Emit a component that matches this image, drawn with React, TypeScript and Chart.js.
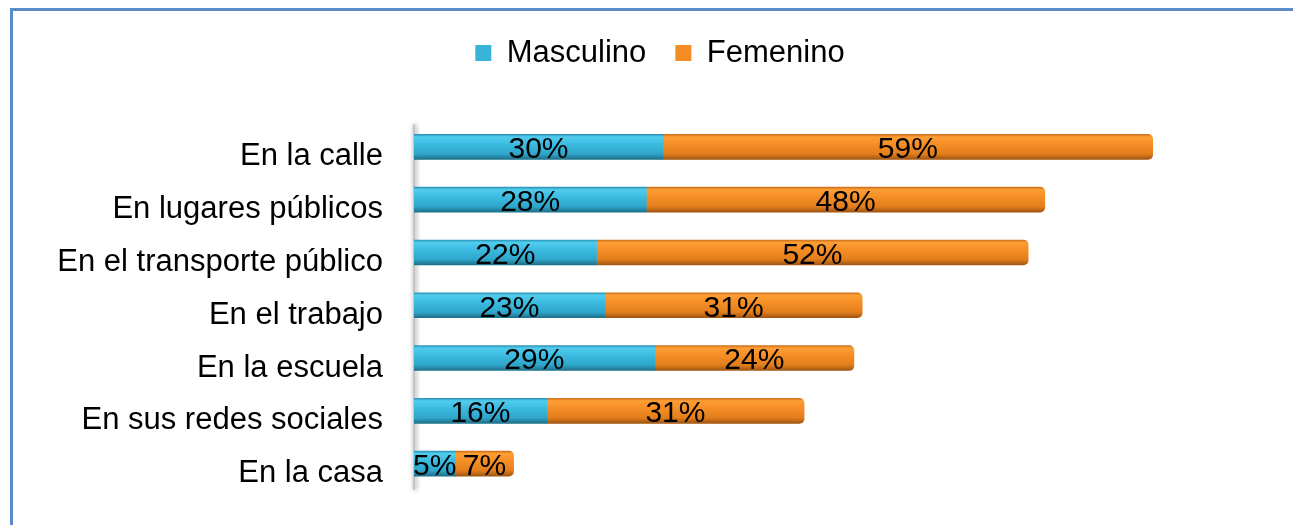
import React, { useEffect, useRef } from 'react';
import { Chart, registerables } from 'chart.js';

Chart.register(...registerables);

const categories = [
  'En la calle',
  'En lugares públicos',
  'En el transporte público',
  'En el trabajo',
  'En la escuela',
  'En sus redes sociales',
  'En la casa',
];
const masculino = [30, 28, 22, 23, 29, 16, 5];
const femenino = [59, 48, 52, 31, 24, 31, 7];
const seriesNames = ['Masculino', 'Femenino'];

const FONT = "'Liberation Sans', Arial, sans-serif";
const BLUE = '#38B4DA';
const ORANGE = '#F38C22';
const BLUE_STOPS: [number, string][] = [
  [0, '#2A95B6'],
  [0.1, '#52CCEE'],
  [0.4, '#3BBAE0'],
  [0.78, '#2FA6CA'],
  [1, '#1C6F8A'],
];
const ORANGE_STOPS: [number, string][] = [
  [0, '#CF7019'],
  [0.1, '#FC9E35'],
  [0.4, '#F58E25'],
  [0.78, '#E27E1C'],
  [1, '#A05511'],
];
const BAR_H = 25;
const LEGEND_SHIFT = 38;

function gradientFor(stops: [number, string][], solid: string) {
  return (ctx: any) => {
    const chart = ctx.chart;
    const y = chart.scales && chart.scales.y;
    if (ctx.type !== 'data' || !y || !chart.chartArea) return solid;
    const yc = y.getPixelForValue(ctx.dataIndex);
    if (!isFinite(yc)) return solid;
    const g = chart.ctx.createLinearGradient(0, yc - BAR_H / 2, 0, yc + BAR_H / 2);
    stops.forEach(([o, c]) => g.addColorStop(o, c));
    return g;
  };
}

const framePlugin = {
  id: 'frame',
  beforeInit(chart: any) {
    const legend = chart.legend;
    if (legend) {
      const origFit = legend.fit;
      legend.fit = function () {
        origFit.call(this);
        this.height += 42;
      };
      const origDraw = legend.draw;
      legend.draw = function () {
        const c = this.ctx;
        c.save();
        c.translate(LEGEND_SHIFT, 0);
        origDraw.call(this);
        c.restore();
      };
    }
  },
  beforeDraw(chart: any) {
    const c = chart.ctx;
    c.save();
    c.fillStyle = '#ffffff';
    c.fillRect(0, 0, chart.width, chart.height);
    c.strokeStyle = '#5B8BC8';
    c.lineWidth = 3;
    c.strokeRect(11.5, 9.5, chart.width + 20, chart.height + 20);
    c.restore();
  },
  beforeDatasetsDraw(chart: any) {
    const c = chart.ctx;
    const a = chart.chartArea;
    c.save();
    c.shadowColor = 'rgba(0,0,0,0.5)';
    c.shadowBlur = 5;
    c.shadowOffsetX = 1;
    c.strokeStyle = '#C4C4C4';
    c.lineWidth = 2;
    c.beginPath();
    c.moveTo(a.left, a.top + 4);
    c.lineTo(a.left, a.bottom);
    c.stroke();
    c.restore();
  },
  afterDatasetsDraw(chart: any) {
    const c = chart.ctx;
    c.save();
    c.font = `30px ${FONT}`;
    c.fillStyle = '#000000';
    c.textAlign = 'center';
    c.textBaseline = 'middle';
    chart.data.datasets.forEach((ds: any, di: number) => {
      const meta = chart.getDatasetMeta(di);
      meta.data.forEach((el: any, i: number) => {
        const x = (el.x + el.base) / 2;
        c.fillText(`${ds.data[i]}%`, x, el.y + 3);
      });
    });
    c.restore();
  },
};

export default function App() {
  const ref = useRef<HTMLCanvasElement>(null);
  useEffect(() => {
    if (!ref.current) return;
    const chart = new Chart(ref.current, {
      type: 'bar',
      data: {
        labels: categories,
        datasets: [
          {
            label: seriesNames[0],
            data: masculino,
            backgroundColor: gradientFor(BLUE_STOPS, BLUE) as any,
            borderWidth: 0,
            borderRadius: 5,
            barThickness: BAR_H,
          },
          {
            label: seriesNames[1],
            data: femenino,
            backgroundColor: gradientFor(ORANGE_STOPS, ORANGE) as any,
            borderWidth: 0,
            borderRadius: 5,
            barThickness: BAR_H,
          },
        ],
      },
      options: {
        indexAxis: 'y',
        animation: false,
        responsive: true,
        maintainAspectRatio: false,
        layout: { padding: { top: 8.5, right: 49, bottom: 35, left: 0 } },
        plugins: {
          tooltip: { enabled: false },
          legend: {
            position: 'top',
            labels: {
              font: { family: FONT, size: 31 },
              color: '#000000',
              boxWidth: 16,
              boxHeight: 16,
              padding: 29,
              generateLabels: (chart: any) => {
                const cols = [BLUE, ORANGE];
                return chart.data.datasets.map((ds: any, i: number) => ({
                  text: ds.label,
                  fillStyle: cols[i],
                  strokeStyle: cols[i],
                  lineWidth: 0,
                  hidden: false,
                  datasetIndex: i,
                  fontColor: '#000000',
                }));
              },
            },
          },
        },
        scales: {
          x: {
            stacked: true,
            display: false,
            min: 0,
            max: 100,
          },
          y: {
            stacked: true,
            grid: { display: false, drawTicks: false },
            border: { display: false },
            ticks: {
              font: { family: FONT, size: 31 },
              color: '#000000',
              padding: 31,
              labelOffset: 10,
            },
            afterFit: (scale: any) => {
              scale.width = 414;
              scale.paddingTop = 0;
              scale.paddingBottom = 0;
            },
          },
        },
      },
      plugins: [framePlugin],
    });
    return () => chart.destroy();
  }, []);
  return (
    <div style={{ position: 'absolute', left: 0, top: 0, width: '1293px', height: '525px' }}>
      <canvas ref={ref} />
    </div>
  );
}
